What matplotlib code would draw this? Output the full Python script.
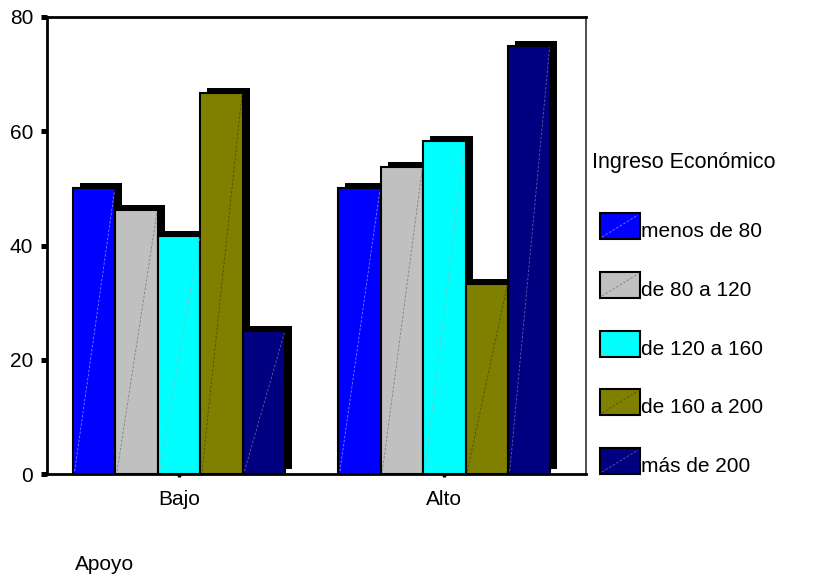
import matplotlib
matplotlib.use("Agg")
import matplotlib.pyplot as plt
import matplotlib.transforms as mtransforms
from matplotlib.patches import Rectangle
from matplotlib.lines import Line2D
import numpy as np

plt.rcParams['font.family'] = ['Liberation Sans', 'DejaVu Sans']

# Data: percentage of each income bracket by level of support
categories = ["Bajo", "Alto"]
series_names = ["menos de 80", "de 80 a 120", "de 120 a 160", "de 160 a 200", "más de 200"]
series_values = [
    [50.0, 50.0],
    [46.2, 53.8],
    [41.7, 58.3],
    [66.7, 33.3],
    [25.0, 75.0],
]
series_colors = ["#0000FF", "#C0C0C0", "#00FFFF", "#808000", "#000080"]
diag_colors = ["#8080FF", "#808080", "#80C0C0", "#505000", "#6060A0"]
y_ticks = [0, 20, 40, 60, 80]
x_title = "Apoyo"
legend_title = "Ingreso Económico"

W, H = 835, 577
fig = plt.figure(figsize=(W / 100, H / 100), dpi=100)
ax = fig.add_axes([47 / W, 1 - 474 / H, (585.5 - 47) / W, (474 - 17) / H])

n = len(series_values)
group_w = 0.8
bar_w = group_w / n
x = np.arange(len(categories))

shadow_tf = mtransforms.offset_copy(ax.transData, fig=fig, x=7, y=5, units='dots')

for i, (vals, col, dcol) in enumerate(zip(series_values, series_colors, diag_colors)):
    pos = x - group_w / 2 + bar_w * (i + 0.5)
    bars = ax.bar(pos, vals, width=bar_w, color=col, edgecolor='black',
                  linewidth=1.5, zorder=3)
    for b in bars:
        # drop shadow behind each bar
        sh = Rectangle((b.get_x(), 0), b.get_width(), b.get_height(),
                       transform=shadow_tf, facecolor='black', edgecolor='none',
                       zorder=1)
        ax.add_patch(sh)
        # faint diagonal stroke across the bar face
        ax.add_line(Line2D([b.get_x() + bar_w * 0.04, b.get_x() + b.get_width() * 0.98],
                           [0.5, b.get_height() - 0.3], color=dcol, lw=0.6,
                           linestyle=(0, (3, 2)), zorder=4))

ax.set_xlim(-0.498, 1.532)
ax.set_ylim(0, 80)
ax.set_yticks(y_ticks)
ax.set_yticklabels([str(t) for t in y_ticks], fontsize=15)
ax.set_xticks(x)
ax.set_xticklabels(categories, fontsize=15)
ax.tick_params(axis='y', length=4, width=3.6, pad=6, direction='out', colors='black')
ax.tick_params(axis='x', length=2.5, width=2.5, pad=9, direction='out', colors='black')

for side in ['left', 'bottom', 'top']:
    ax.spines[side].set_linewidth(2)
    ax.spines[side].set_color('black')
ax.spines['right'].set_linewidth(1.3)
ax.spines['right'].set_color('#404040')

# axis title placed at lower left
fig.text(75 / W, 1 - 570 / H, x_title, fontsize=15, ha='left', va='baseline')

# legend
fig.text(592 / W, 1 - 168 / H, legend_title, fontsize=15.5, ha='left', va='baseline')
centers = [226, 285, 344, 402, 461]
pw, ph = 40, 26
for name, col, dcol, cy in zip(series_names, series_colors, diag_colors, centers):
    x0, y0 = 600, cy + ph / 2
    fig.add_artist(Rectangle((x0 / W, 1 - y0 / H), pw / W, ph / H,
                             transform=fig.transFigure, facecolor=col,
                             edgecolor='black', linewidth=1.5))
    fig.add_artist(Line2D([(x0 + 2) / W, (x0 + pw - 2) / W],
                          [1 - (y0 - 2) / H, 1 - (y0 - ph + 2) / H],
                          transform=fig.transFigure, color=dcol, lw=0.6,
                          linestyle=(0, (3, 2))))
    fig.text(641 / W, 1 - (y0 - 2) / H, name, fontsize=15, ha='left', va='baseline')

fig.savefig("out.png", dpi=100)
